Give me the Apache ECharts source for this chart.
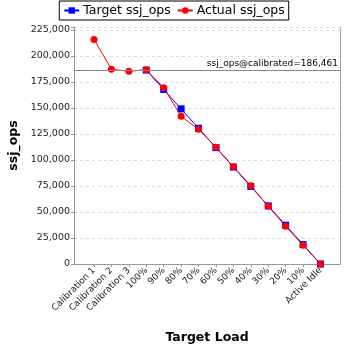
<!DOCTYPE html>
<html><head><meta charset="utf-8">
<script src="https://cdn.jsdelivr.net/npm/echarts@6/dist/echarts.min.js"></script>
<style>html,body{margin:0;padding:0;background:#fff}#c{width:348px;height:348px}</style>
</head><body><div id="c"></div>
<script>
var categories = ['Calibration 1','Calibration 2','Calibration 3','100%','90%','80%','70%','60%','50%','40%','30%','20%','10%','Active Idle'];
var targetOps = [null,null,null,186461,167815,149169,130523,111877,93231,74584,55938,37292,18646,0];
var actualOps = [216000,187200,185300,186800,169500,142000,129500,112200,93600,75300,55500,36300,18000,0];
var calibrated = 186461;
var yTicks = [0,25000,50000,75000,100000,125000,150000,175000,200000,225000];
var yMax = 227900;

var font = 'DejaVu Sans';
function fmt(v){ return v.toLocaleString('en-US'); }
var chart = echarts.init(document.getElementById('c'));
var topPx = 27, bottomPx = 84;
chart.setOption({
  animation: false,
  textStyle: {fontFamily: font},
  legend: {
    top: 1, left: 'center',
    data: ['Target ssj_ops','Actual ssj_ops'],
    borderColor: '#000', borderWidth: 1, padding: [3,4,3,4],
    itemGap: 6, itemWidth: 15, itemHeight: 8,
    textStyle: {fontFamily: font, fontSize: 12.5, color: '#000', padding: [0,0,0,-1]}
  },
  grid: [
    {left: 74, right: 8, top: topPx, bottom: bottomPx, containLabel: false, outerBoundsMode: 'none'},
    {left: 94, right: 27.5, top: topPx, bottom: bottomPx, containLabel: false, outerBoundsMode: 'none'}
  ],
  xAxis: [
    {gridIndex: 0, type: 'value', min: 0, max: 1, show: true,
     axisLine: {show: true, lineStyle: {color: '#999'}}, axisTick: {show: false}, axisLabel: {show: false}, splitLine: {show: false},
     name: 'Target Load', nameLocation: 'middle', nameGap: 67,
     nameTextStyle: {fontFamily: font, fontSize: 12.5, fontWeight: 'bold', color: '#000'}},
    {gridIndex: 1, type: 'category', data: categories, boundaryGap: false,
     axisLine: {show: false},
     axisTick: {show: true, length: 3, lineStyle: {color: '#999'}},
     axisLabel: {rotate: 45, fontSize: 9, color: '#222', fontFamily: font, margin: 5, interval: 0},
     splitLine: {show: false}}
  ],
  yAxis: [
    {gridIndex: 0, type: 'value', min: 0, max: yMax, interval: 25000,
     axisLine: {show: true, lineStyle: {color: '#999'}},
     axisTick: {show: true, length: 3, lineStyle: {color: '#999'}},
     axisLabel: {fontSize: 9.5, color: '#222', fontFamily: font, margin: 4,
       formatter: function(v){ return yTicks.indexOf(v) >= 0 ? fmt(v) : ''; }},
     splitLine: {show: true, lineStyle: {color: '#ddd', type: [3,3]}},
     name: 'ssj_ops', nameLocation: 'middle', nameGap: 43,
     nameTextStyle: {fontFamily: font, fontSize: 12.5, fontWeight: 'bold', color: '#000'}},
    {gridIndex: 0, type: 'value', min: 0, max: yMax, position: 'right',
     axisLine: {show: true, lineStyle: {color: '#aaa'}}, axisTick: {show: false}, axisLabel: {show: false}, splitLine: {show: false}},
    {gridIndex: 1, type: 'value', min: 0, max: yMax, show: false}
  ],
  series: [
    {name: 'calib', type: 'line', xAxisIndex: 0, yAxisIndex: 0, data: [], silent: true,
     markLine: {symbol: 'none', silent: true,
       lineStyle: {color: '#888', type: 'solid', width: 1},
       label: {position: 'insideEndTop', formatter: 'ssj_ops@calibrated=' + fmt(calibrated),
         fontFamily: font, fontSize: 9, color: '#000', distance: 2},
       data: [{yAxis: calibrated}]}},
    {name: 'Target ssj_ops', type: 'line', xAxisIndex: 1, yAxisIndex: 2, data: targetOps,
     symbol: 'rect', symbolSize: 7, color: '#0000ff', lineStyle: {width: 1, color: '#0000ff'},
     itemStyle: {color: '#0000ff'}},
    {name: 'Actual ssj_ops', type: 'line', xAxisIndex: 1, yAxisIndex: 2, data: actualOps,
     symbol: 'circle', symbolSize: 7, color: '#ff0000', lineStyle: {width: 1, color: '#ff0000'},
     itemStyle: {color: '#ff0000'}}
  ]
});
</script></body></html>
